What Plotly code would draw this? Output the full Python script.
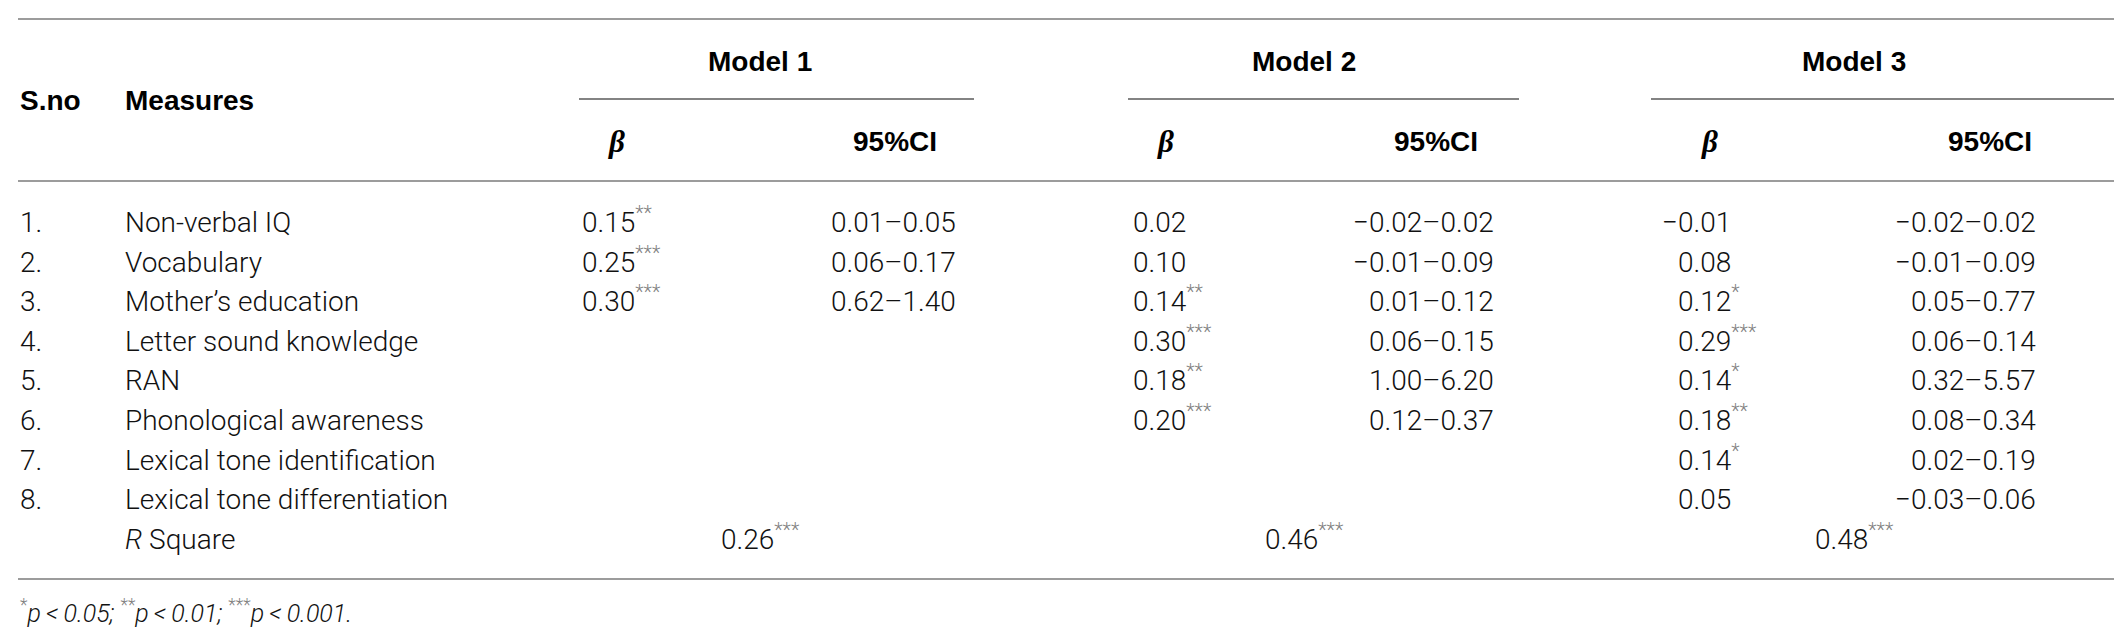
import plotly.graph_objects as go

# --- table content ---
sno = ["1.", "2.", "3.", "4.", "5.", "6.", "7.", "8."]
measures = ["Non-verbal IQ", "Vocabulary", "Mother’s education", "Letter sound knowledge",
            "RAN", "Phonological awareness", "Lexical tone identification",
            "Lexical tone differentiation"]
model_names = ["Model 1", "Model 2", "Model 3"]

m1_beta = ["0.15", "0.25", "0.30"]
m1_sig = ["**", "***", "***"]
m1_ci = ["0.01–0.05", "0.06–0.17", "0.62–1.40"]

m2_beta = ["0.02", "0.10", "0.14", "0.30", "0.18", "0.20"]
m2_sig = ["", "", "**", "***", "**", "***"]
m2_ci = ["−0.02–0.02", "−0.01–0.09", "0.01–0.12", "0.06–0.15", "1.00–6.20", "0.12–0.37"]

m3_beta = ["−0.01", "0.08", "0.12", "0.29", "0.14", "0.18", "0.14", "0.05"]
m3_sig = ["", "", "*", "***", "*", "**", "*", ""]
m3_ci = ["−0.02–0.02", "−0.01–0.09", "0.05–0.77", "0.06–0.14", "0.32–5.57",
         "0.08–0.34", "0.02–0.19", "−0.03–0.06"]

r_square = ["0.26", "0.46", "0.48"]
r_sig = ["***", "***", "***"]

# --- layout (pixel coordinates) ---
W, H = 2122, 630
LEFT, RIGHT = 10, 2112
ROW_Y0, ROW_DY = 214, 39.6
title_x = [752, 1296, 1846]
under_x = [(571, 966), (1120, 1511), (1643, 2112)]
beta_head_x = [608, 1157, 1701]
ci_head_x = [887, 1428, 1982]
beta_col = [632, 1183, 1728]   # right edge of the number
ci_col = [950, 1488, 2030]     # right edge of the interval
STAR_PAD = 23
BODY_SIZE = 28
BASE_OFF = 19                   # row centre -> bottom of text box

SANS = "Liberation Sans, Arial, sans-serif"
LIGHT = "Roboto, Liberation Sans, Arial, sans-serif"
SERIF = "Liberation Serif, Times New Roman, serif"
TXT = "#111111"
STAR = "#7f7f7f"
RULE = "#9c9c9c"

fig = go.Figure()


def add(text, x, y, size=28, family=SANS, anchor="left", color="#000", valign="middle", weight="normal"):
    fig.add_annotation(x=x, y=y, text=text, showarrow=False, xanchor=anchor, yanchor=valign,
                       font=dict(family=family, size=size, color=color, weight=weight))


def cell(text, x, y, anchor="left", size=BODY_SIZE):
    # bottom-anchored so superscript stars don't push the number down
    add(text, x, y + BASE_OFF, size=size, family=LIGHT, anchor=anchor, color=TXT,
        valign="bottom", weight=300)


def starred(num, sig):
    # pad to three stars so right-aligned values line up on the decimal point
    s = "<sup>"
    if sig:
        s += f"<span style='color:{STAR}'>{sig}</span>"
    if len(sig) < 3:
        s += "<span style='color:white'>" + "*" * (3 - len(sig)) + "</span>"
    return num + s + "</sup>"


# rules
for y in (11, 173, 571):
    fig.add_shape(type="line", x0=LEFT, x1=RIGHT, y0=y, y1=y, line=dict(color=RULE, width=2))
for x0, x1 in under_x:
    fig.add_shape(type="line", x0=x0, x1=x1, y0=91, y1=91, line=dict(color="#5a5a5a", width=1.5))

# header
add("<b>S.no</b>", LEFT, 92)
add("<b>Measures</b>", 115, 92)
for i, name in enumerate(model_names):
    add(f"<b>{name}</b>", title_x[i], 53, anchor="center")
    add("<b><i>β</i></b>", beta_head_x[i], 133, size=31, family=SERIF, anchor="center")
    add("<b>95%CI</b>", ci_head_x[i], 133, anchor="center")

# body rows
for r in range(len(measures)):
    y = ROW_Y0 + r * ROW_DY
    cell(sno[r], LEFT, y)
    cell(measures[r], 115, y)

for m, (betas, sigs, cis) in enumerate([(m1_beta, m1_sig, m1_ci),
                                        (m2_beta, m2_sig, m2_ci),
                                        (m3_beta, m3_sig, m3_ci)]):
    for r in range(len(betas)):
        y = ROW_Y0 + r * ROW_DY
        cell(starred(betas[r], sigs[r]), beta_col[m] + STAR_PAD, y, anchor="right")
        cell(cis[r], ci_col[m], y, anchor="right")

# R square row
y_r = ROW_Y0 + len(measures) * ROW_DY
cell("<i>R</i> Square", 115, y_r)
for m in range(3):
    cell(r_square[m] + f"<sup><span style='color:{STAR}'>{r_sig[m]}</span></sup>",
         title_x[m], y_r, anchor="center")

# footnote
foot = (f"<sup><span style='color:{STAR}'>*</span></sup><i>p\u2009<\u20090.05; </i>"
        f"<sup><span style='color:{STAR}'>**</span></sup><i>p\u2009<\u20090.01; </i>"
        f"<sup><span style='color:{STAR}'>***</span></sup><i>p\u2009<\u20090.001.</i>")
add(foot, LEFT, 622, size=25, family=LIGHT, color=TXT, valign="bottom", weight=300)

fig.update_layout(
    width=W, height=H,
    margin=dict(l=0, r=0, t=0, b=0),
    paper_bgcolor="white", plot_bgcolor="white",
    xaxis=dict(range=[0, W], visible=False, fixedrange=True),
    yaxis=dict(range=[H, 0], visible=False, fixedrange=True),
    showlegend=False,
)

fig.write_html("out.html")
